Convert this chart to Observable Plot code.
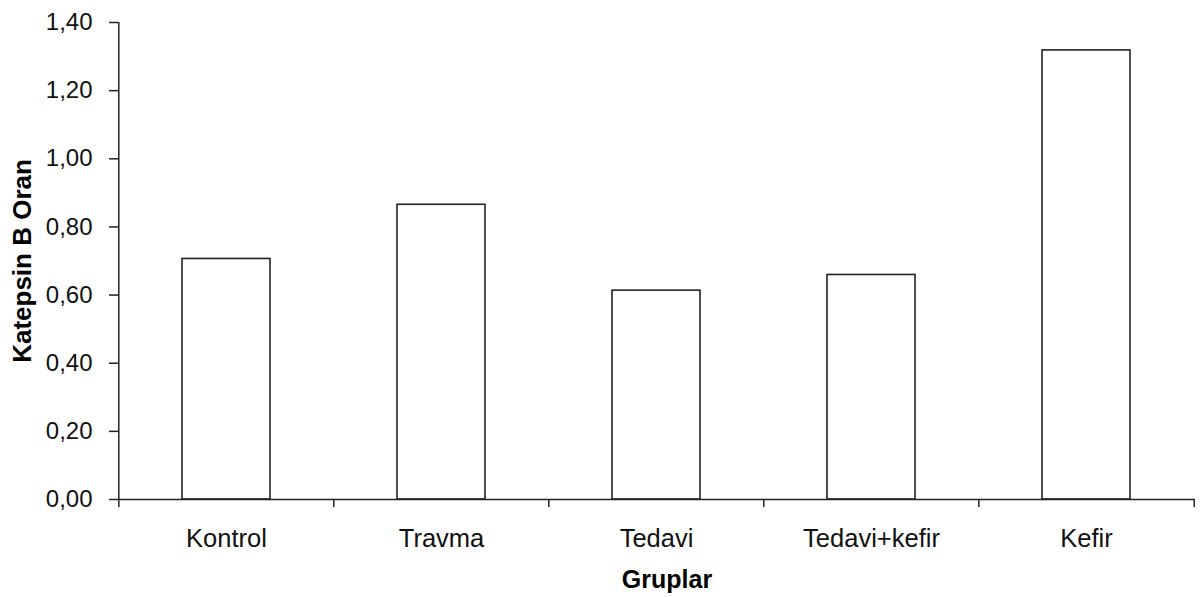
<!DOCTYPE html>
<html>
<head>
<meta charset="utf-8">
<script src="https://cdn.jsdelivr.net/npm/d3@7"></script>
<script src="https://cdn.jsdelivr.net/npm/@observablehq/plot@0.6"></script>
<style>
  html, body { margin: 0; padding: 0; background: #fff; }
</style>
</head>
<body>
<div id="chart"></div>
<script>
const categories = ["Kontrol", "Travma", "Tedavi", "Tedavi+kefir", "Kefir"];
const values = [0.706, 0.865, 0.613, 0.659, 1.318];
const yTicks = [0, 0.2, 0.4, 0.6, 0.8, 1.0, 1.2, 1.4];
const yLabel = "Katepsin B Oran";
const xLabel = "Gruplar";

const data = categories.map((c, i) => ({group: c, value: values[i]}));

const W = 1200, H = 597;
const mL = 118, mR = 5, mT = 22, mB = 98;
const step = (W - mL - mR) / categories.length;
const ink = "#222";

const chart = Plot.plot({
  width: W,
  height: H,
  marginLeft: mL,
  marginRight: mR,
  marginTop: mT,
  marginBottom: mB,
  style: {fontFamily: "'Liberation Sans', Arial, sans-serif", fontSize: "24px", color: "#111", background: "#fff"},
  x: {domain: categories, paddingInner: 0.59, paddingOuter: 0.295, label: null},
  y: {domain: [0, 1.4], label: null},
  marks: [
    Plot.barY(data, {x: "group", y: "value", fill: "white", stroke: ink, strokeWidth: 1.6}),
    Plot.ruleY([0], {stroke: ink, strokeWidth: 1.5}),
    // y axis line
    Plot.ruleX([categories[0]], {x: d => d, y1: 0, y2: 1.4, dx: -step / 2, stroke: ink, strokeWidth: 1.5}),
    // category boundary ticks below x axis
    Plot.ruleX(categories, {x: d => d, y1: 0, y2: 0, dx: -step / 2, insetBottom: -8, stroke: ink, strokeWidth: 1.5}),
    Plot.ruleX([categories[categories.length - 1]], {x: d => d, y1: 0, y2: 0, dx: step / 2, insetBottom: -8, stroke: ink, strokeWidth: 1.5}),
    Plot.axisY({ticks: yTicks, tickFormat: d => d.toFixed(2).replace(".", ","), tickSize: 9, tickPadding: 17, stroke: ink, strokeWidth: 1.5, label: null}),
    Plot.axisX({tickSize: 0, tickPadding: 29, fontSize: 25.5, label: null}),
    Plot.text([yLabel], {frameAnchor: "left", textAnchor: "middle", lineAnchor: "middle", rotate: -90, dx: -96, fontWeight: "bold", fontSize: 26, fill: "#000"}),
    Plot.text([xLabel], {frameAnchor: "bottom", textAnchor: "middle", lineAnchor: "bottom", dy: 88, dx: 10, fontWeight: "bold", fontSize: 25, fill: "#000"})
  ]
});

document.getElementById("chart").appendChild(chart);
</script>
</body>
</html>
